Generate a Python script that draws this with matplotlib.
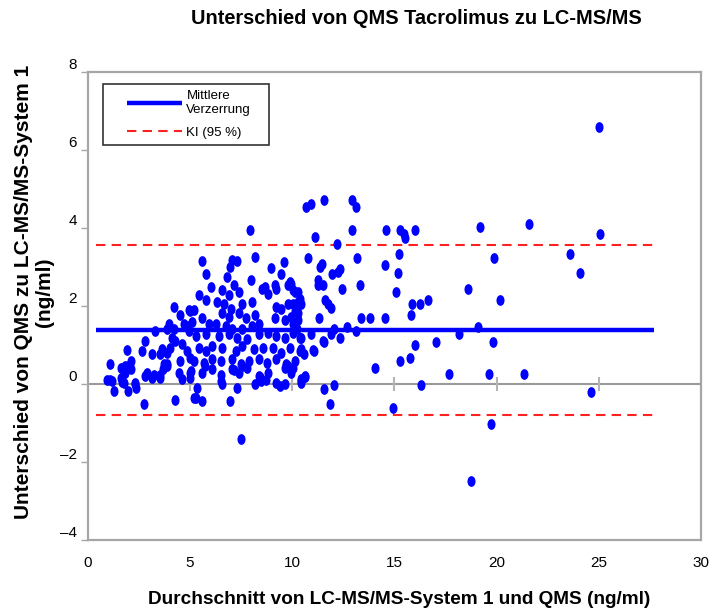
import matplotlib
matplotlib.use("Agg")
import matplotlib.pyplot as plt
from matplotlib.path import Path
from matplotlib.transforms import Affine2D
from matplotlib.legend_handler import HandlerLine2D

# mean of both methods (ng/ml)
mean_conc = [
    # sparse right part
    10.68, 10.92, 11.55, 12.91, 13.11, 12.91, 11.12, 14.61, 15.29, 15.49, 15.53, 16.02,
    19.17, 21.60, 25.05, 25.00, 12.18, 10.78, 13.16, 15.24, 19.85, 23.59, 24.08, 11.36,
    11.46, 11.94, 12.23, 12.33, 14.56, 15.19, 11.26, 11.26, 11.50, 12.43, 13.30, 15.10,
    18.59, 10.29, 10.29, 10.29, 11.60, 11.75, 11.89, 15.87, 16.26, 16.65, 20.15, 11.31,
    13.35, 13.79, 14.56, 15.83, 12.67, 13.11, 19.08, 12.04, 11.89, 10.92, 11.55, 12.33,
    10.39, 18.16, 19.81, 17.04, 16.02, 10.39, 10.58, 11.07, 14.03, 15.78, 15.29, 17.67,
    19.61, 21.36, 10.44, 10.63, 11.55, 12.04, 16.31, 24.61, 11.84, 14.95, 19.71, 18.75,
    # low band near zero
    2.75, 4.28, 1.27, 1.97, 1.06, 0.95, 1.67, 1.81, 2.31, 3.21, 3.51, 3.71,
    3.88, 5.72, 6.49, 7.13, 7.53, 8.43, 8.73, 7.47,
    # 0-5 ng/ml cluster
    4.22, 5.00, 4.51, 3.98, 3.88, 4.22, 4.71, 4.85, 3.30, 2.77, 4.13, 4.27,
    4.03, 3.88, 1.89, 2.67, 3.16, 3.54, 3.64, 4.61, 4.85, 5.00, 4.51, 2.09,
    1.94, 2.09, 1.07, 1.60, 1.80, 3.88, 3.69, 2.91, 3.16, 2.77, 3.54, 4.47,
    4.61, 5.00, 5.00, 1.17, 1.60, 1.75, 2.28, 2.33, 5.19,
    # 5-10 ng/ml cluster
    5.58, 5.78, 7.04, 6.94, 7.28, 8.16, 8.98, 9.61, 9.47, 6.80, 7.96, 6.02,
    6.55, 7.14, 7.38, 6.89, 8.69, 9.17, 8.83, 9.81, 10.15, 5.44, 5.78, 5.19,
    6.31, 6.65, 6.99, 7.52, 8.01, 9.22, 9.47, 9.17, 9.66, 6.55, 6.89, 7.38,
    7.72, 8.20, 5.58, 5.92, 5.10, 6.26, 6.75, 7.04, 7.52, 8.01, 8.35, 4.95,
    5.29, 5.78, 6.41, 6.89, 7.28, 7.77, 8.35, 8.83, 9.22, 9.66, 10.05, 5.44,
    5.78, 6.07, 6.55, 7.23, 7.52, 8.11, 8.59, 9.08, 9.47, 9.90, 5.19, 5.68,
    6.07, 6.50, 7.04, 7.48, 7.86, 8.35, 8.74, 9.22, 9.71, 10.15, 5.05, 5.58,
    6.07, 7.04, 7.38, 7.77, 8.35, 8.83, 9.66, 9.95, 6.50, 6.55, 7.28, 8.20,
    8.45, 9.22, 9.42, 9.66, 5.34, 5.29, 5.58, 6.94, 7.91, 9.90, 9.22, 8.50,
    4.95, 9.95, 10.05, 10.39, 9.81, 10.05, 10.44, 10.15, 9.95, 10.29, 10.05, 10.24,
    10.44, 11.50, 10.44, 11.02, 9.81, 10.05, 10.44, 10.63, 10.44,
]
# difference QMS - LC-MS/MS (ng/ml)
difference = [
    4.55, 4.61, 4.73, 4.73, 4.55, 3.94, 3.77, 3.94, 3.94, 3.84, 3.74, 3.94,
    4.02, 4.10, 3.84, 6.59, 3.59, 3.23, 3.23, 3.33, 3.23, 3.33, 2.85, 3.00,
    3.08, 2.82, 2.88, 2.95, 3.05, 2.85, 2.67, 2.54, 2.54, 2.44, 2.54, 2.37,
    2.44, 2.37, 2.11, 1.81, 2.16, 2.06, 1.96, 2.06, 2.04, 2.16, 2.16, 1.68,
    1.68, 1.68, 1.68, 1.78, 1.45, 1.37, 1.45, 1.40, 1.27, 1.27, 1.07, 1.17,
    1.17, 1.27, 1.07, 1.07, 0.99, 0.84, 0.76, 0.84, 0.41, 0.66, 0.59, 0.25,
    0.25, 0.25, 0.08, 0.18, -0.13, -0.03, -0.03, -0.20, -0.51, -0.61, -1.04, -2.48,
    -0.51, -0.40, -0.18, -0.18, 0.11, 0.11, 0.06, 0.46, 0.02, 0.24, 0.24, 0.50,
    0.50, 0.46, 0.24, 0.37, 0.46, 0.19, 0.11, -1.41,
    1.98, 1.88, 1.78, 1.55, 1.40, 1.42, 1.55, 1.48, 1.37, 1.09, 1.17, 1.09,
    0.92, 0.79, 0.87, 0.84, 0.76, 0.76, 0.89, 1.02, 0.84, 0.66, 0.59, 0.59,
    0.46, 0.38, 0.51, 0.41, 0.28, 0.46, 0.38, 0.28, 0.15, 0.20, 0.15, 0.28,
    0.13, 0.28, 0.15, 0.08, 0.15, 0.03, 0.00, -0.10, -0.36,
    3.16, 2.82, 3.18, 3.00, 3.16, 3.26, 2.98, 3.13, 2.82, 2.75, 2.67, 2.49,
    2.42, 2.54, 2.37, 2.29, 2.49, 2.54, 2.32, 2.54, 2.37, 2.29, 2.16, 1.91,
    2.11, 2.04, 1.93, 2.04, 2.11, 1.98, 1.93, 1.68, 1.65, 1.81, 1.73, 1.81,
    1.68, 1.78, 1.68, 1.55, 1.60, 1.53, 1.48, 1.40, 1.42, 1.48, 1.55, 1.35,
    1.22, 1.27, 1.22, 1.27, 1.17, 1.15, 1.27, 1.30, 1.22, 1.17, 1.30, 0.92,
    0.84, 0.97, 0.92, 0.84, 0.97, 0.89, 0.92, 0.92, 0.79, 0.92, 0.59, 0.53,
    0.64, 0.59, 0.64, 0.51, 0.59, 0.64, 0.53, 0.64, 0.51, 0.59, 0.33, 0.28,
    0.38, 0.38, 0.28, 0.41, 0.20, 0.28, 0.41, 0.28, 0.08, 0.00, -0.10, 0.00,
    0.08, 0.03, -0.05, 0.00, -0.10, -0.36, -0.43, -0.43, 3.94, 2.62, 2.44, 2.44,
    1.91, 2.57, 2.42, 2.19, 2.06, 2.04, 2.06, 1.86, 1.73, 1.65, 1.53, 1.40,
    1.17, 1.09, 0.89, 0.87, 0.46, 0.41, 0.13, 0.20, 0.03,
]

mean_bias = 1.39
ci_upper = 3.57
ci_lower = -0.79
line_span = [0.4, 27.7]
xticks = [0, 5, 10, 15, 20, 25, 30]
yticks = [-4, -2, 0, 2, 4, 6, 8]
ytick_labels = ["\u20134", "\u20132", "0", "2", "4", "6", "8"]

GRAY = "#a6a6a6"
plt.rcParams["font.family"] = ["Liberation Sans", "DejaVu Sans"]

fig = plt.figure(figsize=(7.09, 6.12), dpi=100)
ax = fig.add_axes([0.124, 0.118, 0.8646, 0.764])

# zero line with its small tick marks
ax.axhline(0, color="#9a9a9a", lw=1.5, zorder=1)
ax.plot(xticks[1:-1], [0] * (len(xticks) - 2), ls="none", marker="|",
        ms=10, mew=1.5, color="#b5b5b5", zorder=1)

ellipse = Path.unit_circle().transformed(Affine2D().scale(0.75, 1.0))
ax.scatter(mean_conc, difference, marker=ellipse, s=60, color="#0000ff",
           linewidths=0, zorder=3)

ax.plot(line_span, [mean_bias, mean_bias], color="#0000ff", lw=3.2,
        solid_capstyle="butt", zorder=2, label="Mittlere\nVerzerrung")
ax.plot(line_span, [ci_upper, ci_upper], color="#ff2020", lw=1.5,
        dashes=(4.5, 3), zorder=2, label="KI (95 %)")
ax.plot(line_span, [ci_lower, ci_lower], color="#ff2020", lw=1.5,
        dashes=(4.5, 3), zorder=2)

ax.set_xlim(0, 30)
ax.set_ylim(-4, 8)
ax.set_xticks(xticks)
ax.set_yticks(yticks)
ax.set_yticklabels(ytick_labels, va="bottom")
ax.tick_params(axis="x", length=0, pad=12, labelsize=11)
ax.tick_params(axis="y", length=5, width=1, color=GRAY, pad=3, labelsize=11)
for s in ax.spines.values():
    s.set_color(GRAY)
    s.set_linewidth(1.6)

leg = ax.legend(loc="upper left", bbox_to_anchor=(0.024, 0.838, 0.272, 0.136),
                mode="expand", borderaxespad=0, frameon=True, fancybox=False,
                fontsize=9.5, handlelength=5.6, handletextpad=0.3,
                labelspacing=0.8, borderpad=0.45,
                handler_map={plt.Line2D: HandlerLine2D(xpad=1.4)})
leg.get_frame().set_edgecolor("black")
leg.get_frame().set_linewidth(1.2)

fig.text(0.587, 0.97, "Unterschied von QMS Tacrolimus zu LC-MS/MS",
         ha="center", va="center", fontsize=14.4, fontweight="bold")
fig.text(0.563, 0.02, "Durchschnitt von LC-MS/MS-System 1 und QMS (ng/ml)",
         ha="center", va="center", fontsize=13.7, fontweight="bold")
fig.text(0.048, 0.523, "Unterschied von QMS zu LC-MS/MS-System 1\n(ng/ml)",
         ha="center", va="center", rotation=90, fontsize=15,
         fontweight="bold", linespacing=1.1)

fig.savefig("out.png", dpi=100)
